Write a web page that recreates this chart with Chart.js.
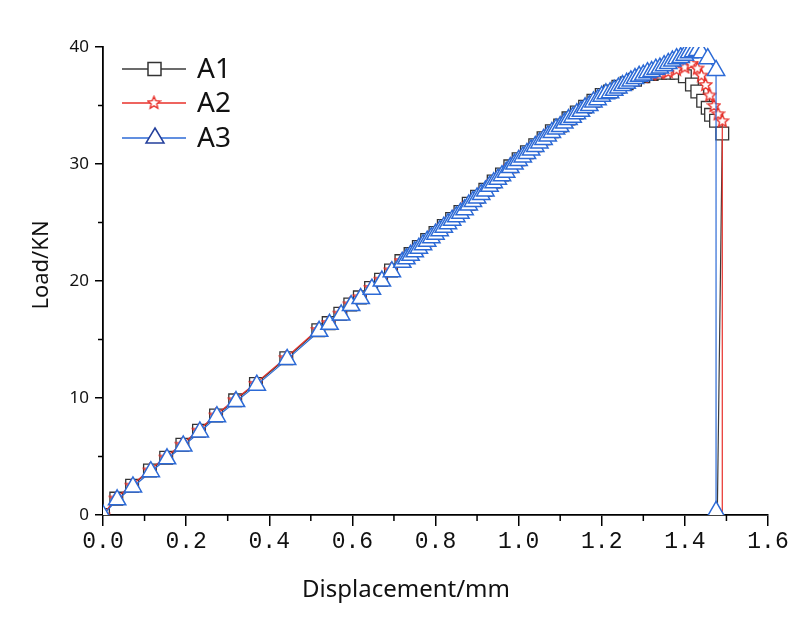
<!DOCTYPE html>
<html>
<head>
<meta charset="utf-8">
<script src="https://cdn.jsdelivr.net/npm/chart.js@4.4.0/dist/chart.umd.min.js"></script>
<style>
  body { margin: 0; background: #fff; }
  canvas { display: block; }
</style>
</head>
<body>
<canvas id="myChart" width="808" height="621"></canvas>
<script>
// A3 (blue triangles)
const a3Disp = [0, 0.034, 0.072, 0.115, 0.154, 0.193, 0.233, 0.274, 0.32, 0.37, 0.443, 0.52, 0.545, 0.573, 0.597, 0.62, 0.647, 0.671, 0.695, 0.72,
  0.73, 0.74, 0.75, 0.76, 0.77, 0.78, 0.79, 0.80, 0.81, 0.82, 0.83, 0.84, 0.85, 0.86, 0.87, 0.88, 0.89, 0.90, 0.91, 0.92, 0.93, 0.94, 0.95, 0.96, 0.97, 0.98, 0.99,
  1.00, 1.01, 1.02, 1.03, 1.04, 1.05, 1.06, 1.07, 1.08, 1.09, 1.10, 1.11, 1.12, 1.13, 1.14, 1.15, 1.16, 1.17, 1.18, 1.19,
  1.20, 1.21, 1.22, 1.23, 1.24, 1.25, 1.26, 1.27, 1.28, 1.29, 1.30, 1.31, 1.32, 1.33, 1.34, 1.35, 1.36, 1.37, 1.38, 1.39,
  1.40, 1.41, 1.42, 1.43, 1.44, 1.455, 1.475, 1.475];
const a3Load = [0, 1.3, 2.4, 3.7, 4.8, 5.9, 7.1, 8.4, 9.7, 11.1, 13.3, 15.7, 16.3, 17.1, 17.9, 18.5, 19.3, 20.0, 20.8, 21.6,
  21.9, 22.2, 22.5, 22.8, 23.1, 23.4, 23.7, 24.0, 24.3, 24.6, 24.9, 25.2, 25.5, 25.8, 26.1, 26.5, 26.8, 27.1, 27.4, 27.7, 28.1, 28.4, 28.7, 29.0, 29.3, 29.7, 30.0,
  30.3, 30.6, 30.9, 31.2, 31.5, 31.8, 32.1, 32.4, 32.7, 33.0, 33.2, 33.5, 33.8, 34.0, 34.3, 34.5, 34.8, 35.0, 35.3, 35.5,
  35.8, 36.0, 36.1, 36.3, 36.5, 36.7, 36.9, 37.1, 37.3, 37.5, 37.6, 37.8, 37.9, 38.1, 38.2, 38.4, 38.6, 38.8, 39.0, 39.1,
  39.3, 39.5, 39.6, 39.7, 39.5, 39.0, 38.0, 0.3];

// A2 (red stars)
const a2Disp = [0, 0.031, 0.069, 0.112, 0.151, 0.19, 0.23, 0.271, 0.317, 0.367, 0.44, 0.517, 0.542, 0.57, 0.594, 0.617, 0.644, 0.668, 0.692, 0.717,
  0.74, 0.76, 0.78, 0.80, 0.82, 0.84, 0.86, 0.88, 0.90, 0.92, 0.94, 0.96, 0.98, 1.00, 1.02, 1.04, 1.06, 1.08, 1.10, 1.12, 1.14, 1.16, 1.18,
  1.20, 1.22, 1.24, 1.26, 1.28, 1.30, 1.32, 1.34, 1.36, 1.38, 1.40, 1.415, 1.43, 1.44, 1.45, 1.46, 1.47, 1.48, 1.49, 1.49];
const a2Load = [0, 1.45, 2.55, 3.85, 4.95, 6.05, 7.25, 8.55, 9.85, 11.25, 13.45, 15.85, 16.45, 17.25, 18.05, 18.65, 19.45, 20.15, 20.95, 21.75,
  22.3, 22.9, 23.5, 24.1, 24.7, 25.3, 25.9, 26.6, 27.2, 27.8, 28.5, 29.1, 29.8, 30.4, 31.0, 31.6, 32.2, 32.8, 33.3, 33.9, 34.4, 34.9, 35.4,
  35.9, 36.2, 36.6, 36.9, 37.2, 37.5, 37.7, 37.8, 37.9, 38.1, 38.3, 38.6, 38.2, 37.6, 36.8, 35.9, 35.0, 34.3, 33.7, 0];

// A1 (grey squares)
const a1Disp = [0, 0.032, 0.07, 0.113, 0.152, 0.191, 0.231, 0.272, 0.318, 0.368, 0.441, 0.518, 0.543, 0.571, 0.595, 0.618, 0.645, 0.669, 0.693, 0.718,
  0.74, 0.76, 0.78, 0.80, 0.82, 0.84, 0.86, 0.88, 0.90, 0.92, 0.94, 0.96, 0.98, 1.00, 1.02, 1.04, 1.06, 1.08, 1.10, 1.12, 1.14, 1.16, 1.18,
  1.20, 1.22, 1.24, 1.26, 1.28, 1.30, 1.32, 1.34, 1.36, 1.38, 1.40, 1.417, 1.43, 1.444, 1.455, 1.463, 1.475, 1.49, 1.478];
const a1Load = [0, 1.4, 2.5, 3.8, 4.9, 6.0, 7.2, 8.5, 9.8, 11.2, 13.4, 15.8, 16.4, 17.2, 18.0, 18.6, 19.4, 20.1, 20.9, 21.7,
  22.3, 22.9, 23.5, 24.1, 24.7, 25.3, 25.9, 26.6, 27.2, 27.8, 28.5, 29.1, 29.8, 30.4, 31.0, 31.6, 32.2, 32.8, 33.3, 33.9, 34.4, 34.9, 35.4,
  35.9, 36.2, 36.6, 36.9, 37.2, 37.5, 37.7, 37.8, 37.8, 37.8, 37.5, 36.8, 36.2, 35.4, 34.8, 34.2, 33.7, 32.6, 0];

const xTicks = [0, 0.2, 0.4, 0.6, 0.8, 1.0, 1.2, 1.4, 1.6];
const xMinor = [0.1, 0.3, 0.5, 0.7, 0.9, 1.1, 1.3, 1.5];
const yTicks = [0, 10, 20, 30, 40];
const yMinor = [5, 15, 25, 35];
const seriesNames = ['A1', 'A2', 'A3'];

const A1_COLOR = '#3a3a3a';
const A2_COLOR = '#e8302a';
const A3_COLOR = '#2c6ad6';

// hollow five-point star marker
function makeStar(size) {
  const c = document.createElement('canvas');
  c.width = size; c.height = size;
  const g = c.getContext('2d');
  const cx = size / 2, cy = size / 2 + 0.5, ro = size / 2 - 1, ri = ro * 0.45;
  g.beginPath();
  for (let i = 0; i < 10; i++) {
    const r = i % 2 ? ri : ro;
    const a = -Math.PI / 2 + i * Math.PI / 5;
    g.lineTo(cx + r * Math.cos(a), cy + r * Math.sin(a));
  }
  g.closePath();
  g.fillStyle = '#fff';
  g.fill();
  g.strokeStyle = A2_COLOR;
  g.lineWidth = 1.4;
  g.stroke();
  return c;
}
const starImg = makeStar(15);

const pairs = (xs, ys) => xs.map((v, i) => ({x: v, y: ys[i]}));
// no marker on the final drop-to-zero point
const noLastMarker = (r) => (ctx) => ctx.dataIndex === ctx.dataset.data.length - 1 ? 0 : r;

const extras = {
  id: 'extras',
  afterDraw(chart) {
    const {ctx, scales: {x, y}} = chart;
    ctx.save();
    ctx.strokeStyle = '#000';
    ctx.lineWidth = 1.5;
    // minor ticks
    xMinor.forEach(v => {
      const px = x.getPixelForValue(v);
      ctx.beginPath(); ctx.moveTo(px, y.bottom); ctx.lineTo(px, y.bottom + 6); ctx.stroke();
    });
    yMinor.forEach(v => {
      const py = y.getPixelForValue(v);
      ctx.beginPath(); ctx.moveTo(x.left, py); ctx.lineTo(x.left - 5, py); ctx.stroke();
    });

    // axis titles
    ctx.fillStyle = '#111';
    ctx.font = '24px "Noto Sans"';
    ctx.textAlign = 'center';
    ctx.textBaseline = 'middle';
    ctx.fillText('Displacement/mm', 406, 590);
    ctx.save();
    ctx.translate(42, 265);
    ctx.rotate(-Math.PI / 2);
    ctx.font = '22px "Noto Sans"';
    ctx.fillText('Load/KN', 0, 0);
    ctx.restore();

    // legend
    const rows = [69, 103, 138];
    const colors = [A1_COLOR, A2_COLOR, A3_COLOR];
    rows.forEach((ly, i) => {
      ctx.strokeStyle = colors[i];
      ctx.lineWidth = 1.5;
      ctx.beginPath(); ctx.moveTo(122, ly); ctx.lineTo(186, ly); ctx.stroke();
      ctx.fillStyle = '#fff';
      if (i === 0) {
        ctx.fillRect(148, ly - 6.5, 13, 13);
        ctx.strokeStyle = '#333';
        ctx.strokeRect(148, ly - 6.5, 13, 13);
      } else if (i === 1) {
        ctx.drawImage(starImg, 154 - 7.5, ly - 8);
      } else {
        ctx.beginPath();
        ctx.moveTo(155, ly - 10); ctx.lineTo(164, ly + 5); ctx.lineTo(146, ly + 5); ctx.closePath();
        ctx.fill();
        ctx.strokeStyle = '#233f9c';
        ctx.stroke();
      }
      ctx.fillStyle = '#111';
      ctx.font = '28px "Noto Sans"';
      ctx.textAlign = 'left';
      ctx.textBaseline = 'middle';
      ctx.fillText(seriesNames[i], 197, ly + 1);
    });
    ctx.restore();
  }
};

new Chart(document.getElementById('myChart').getContext('2d'), {
  type: 'scatter',
  data: {
    datasets: [
      {
        label: seriesNames[0],
        data: pairs(a1Disp, a1Load),
        showLine: true,
        borderColor: A1_COLOR,
        borderWidth: 1.2,
        pointStyle: 'rect',
        pointRadius: noLastMarker(9),
        pointBackgroundColor: '#fff',
        pointBorderColor: '#333',
        pointBorderWidth: 1.3,
        order: 2
      },
      {
        label: seriesNames[1],
        data: pairs(a2Disp, a2Load),
        showLine: true,
        borderColor: A2_COLOR,
        borderWidth: 1.2,
        pointStyle: starImg,
        pointRadius: noLastMarker(7),
        order: 1
      },
      {
        label: seriesNames[2],
        data: pairs(a3Disp, a3Load),
        showLine: true,
        borderColor: A3_COLOR,
        borderWidth: 1.2,
        pointStyle: 'triangle',
        pointRadius: 10,
        pointBackgroundColor: '#fff',
        pointBorderColor: A3_COLOR,
        pointBorderWidth: 1.5,
        order: 0
      }
    ]
  },
  options: {
    responsive: false,
    animation: false,
    layout: { padding: { left: 0, top: 47, right: 40, bottom: 0 } },
    plugins: { legend: { display: false }, tooltip: { enabled: false } },
    scales: {
      x: {
        type: 'linear',
        min: 0, max: 1.6,
        afterBuildTicks: s => { s.ticks = xTicks.map(v => ({value: v})); },
        afterFit: s => { s.height = 106; },
        border: { display: true, color: '#000', width: 1.8 },
        grid: { drawOnChartArea: false, drawTicks: true, tickLength: 11, color: '#000', lineWidth: 1.5 },
        ticks: {
          color: '#111',
          font: { family: '"Liberation Mono"', size: 23 },
          padding: 2,
          maxRotation: 0,
          callback: v => v.toFixed(1)
        }
      },
      y: {
        type: 'linear',
        min: 0, max: 40,
        afterBuildTicks: s => { s.ticks = yTicks.map(v => ({value: v})); },
        afterFit: s => { s.width = 103; },
        border: { display: true, color: '#000', width: 1.8 },
        grid: { drawOnChartArea: false, drawTicks: true, tickLength: 8, color: '#000', lineWidth: 1.5 },
        ticks: {
          color: '#111',
          font: { family: '"Noto Sans"', size: 17 },
          padding: 6
        }
      }
    }
  },
  plugins: [extras]
});
</script>
</body>
</html>
